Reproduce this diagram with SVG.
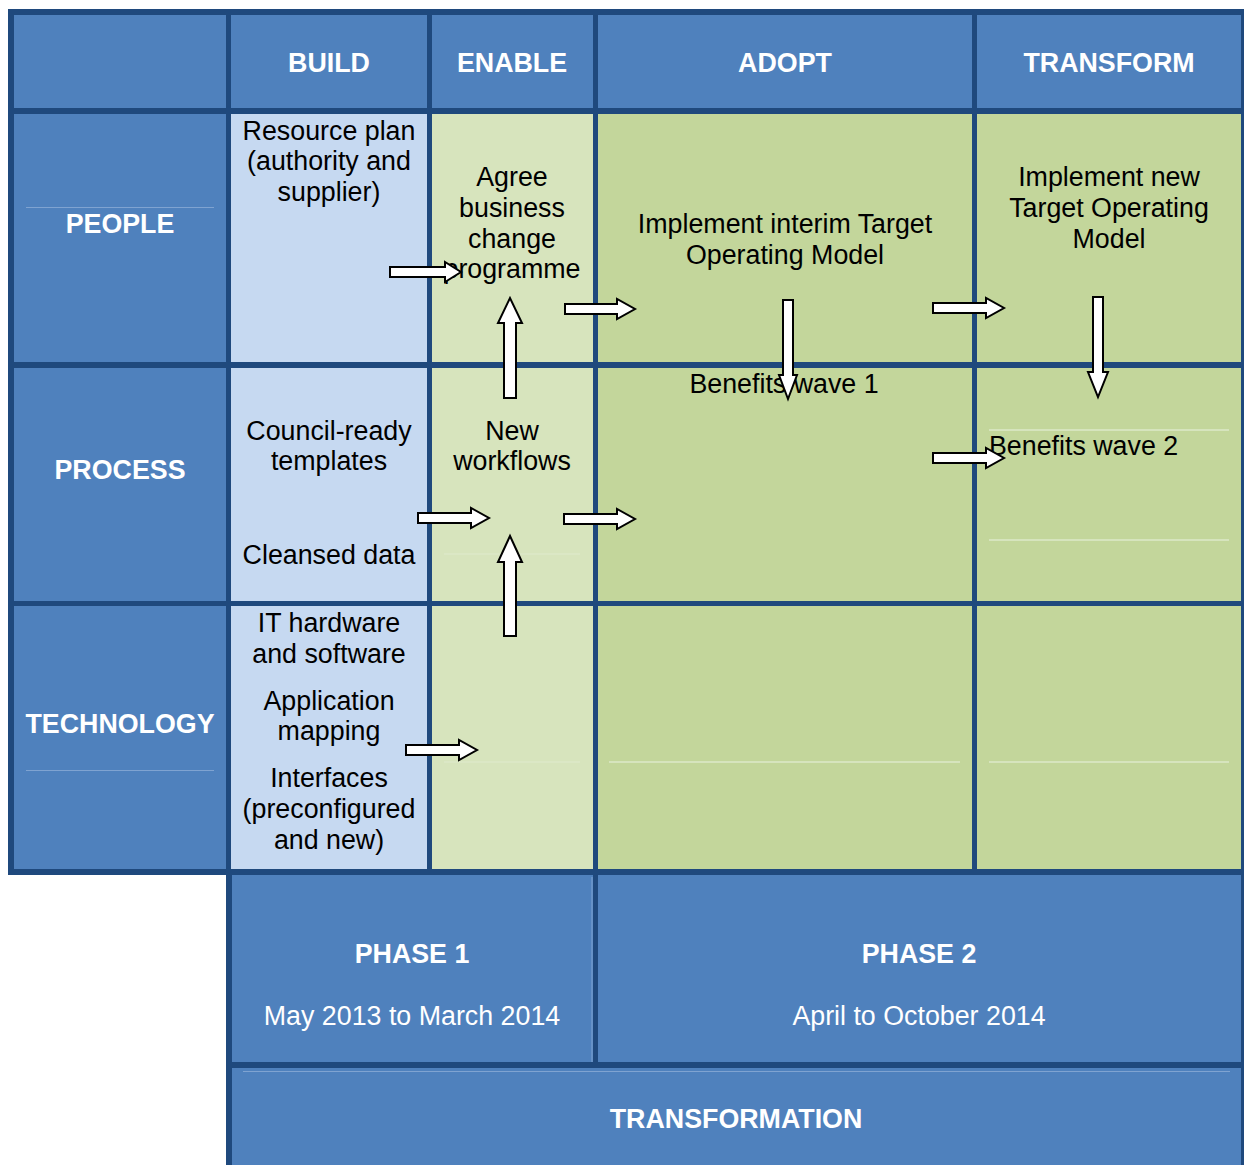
<svg xmlns="http://www.w3.org/2000/svg" width="1244" height="1165" viewBox="0 0 1244 1165">
<style>
.frame{fill:#1F497D}
.hdr{fill:#4F81BD}
.build{fill:#C6D9F1}
.enable{fill:#D7E4BD}
.adopt{fill:#C3D69B}
.ht{font-family:"Liberation Sans",Arial,sans-serif;font-size:26.8px;font-weight:bold;fill:#FFFFFF;text-anchor:middle}
.wt{font-family:"Liberation Sans",Arial,sans-serif;font-size:26.8px;fill:#FFFFFF;text-anchor:middle}
.bt{font-family:"Liberation Sans",Arial,sans-serif;font-size:26.8px;fill:#000000;text-anchor:middle}
.fl{stroke:#7FA3D1;stroke-width:1;fill:none}
.fg{stroke:#DDE8C8;stroke-width:1.5;fill:none}
.arr{fill:#FFFFFF;stroke:#000000;stroke-width:2;stroke-linejoin:miter}
</style>
<rect width="1244" height="1165" fill="#FFFFFF"/>
<g id="frame">
<rect class="frame" x="8" y="9" width="1236" height="866"/>
<rect class="frame" x="226" y="869" width="1018" height="296"/>
</g>
<g id="header-corner"><rect class="hdr" x="14" y="15" width="212" height="93"/></g>
<g id="header-build"><rect class="hdr" x="231" y="15" width="196" height="93"/><text class="ht" x="329" y="72">BUILD</text></g>
<g id="header-enable"><rect class="hdr" x="432" y="15" width="161" height="93"/><text class="ht" x="512" y="72">ENABLE</text></g>
<g id="header-adopt"><rect class="hdr" x="598" y="15" width="374" height="93"/><text class="ht" x="785" y="72">ADOPT</text></g>
<g id="header-transform"><rect class="hdr" x="977" y="15" width="264" height="93"/><text class="ht" x="1109" y="72">TRANSFORM</text></g>

<g id="label-people"><rect class="hdr" x="14" y="114" width="212" height="248"/><line class="fl" x1="26" y1="207.5" x2="214" y2="207.5"/><text class="ht" x="120" y="233">PEOPLE</text></g>
<g id="label-process"><rect class="hdr" x="14" y="368" width="212" height="233"/><text class="ht" x="120" y="479">PROCESS</text></g>
<g id="label-technology"><rect class="hdr" x="14" y="606" width="212" height="263"/><line class="fl" x1="26" y1="770.5" x2="214" y2="770.5"/><text class="ht" x="120" y="733">TECHNOLOGY</text></g>

<g id="build-people"><rect class="build" x="231" y="114" width="196" height="248"/>
<text class="bt" x="329" y="140">Resource plan</text>
<text class="bt" x="329" y="170">(authority and</text>
<text class="bt" x="329" y="201">supplier)</text></g>
<g id="build-process"><rect class="build" x="231" y="368" width="196" height="233"/>
<text class="bt" x="329" y="440">Council-ready</text>
<text class="bt" x="329" y="470">templates</text>
<text class="bt" x="329" y="564">Cleansed data</text></g>
<g id="build-technology"><rect class="build" x="231" y="606" width="196" height="263"/>
<text class="bt" x="329" y="632">IT hardware</text>
<text class="bt" x="329" y="663">and software</text>
<text class="bt" x="329" y="710">Application</text>
<text class="bt" x="329" y="740">mapping</text>
<text class="bt" x="329" y="787">Interfaces</text>
<text class="bt" x="329" y="818">(preconfigured</text>
<text class="bt" x="329" y="849">and new)</text></g>

<g id="enable-people"><rect class="enable" x="432" y="114" width="161" height="248"/>
<text class="bt" x="512" y="186">Agree</text>
<text class="bt" x="512" y="217">business</text>
<text class="bt" x="512" y="248">change</text>
<text class="bt" x="512" y="278">programme</text></g>
<g id="enable-process"><rect class="enable" x="432" y="368" width="161" height="233"/>
<line class="fg" x1="444" y1="554" x2="580" y2="554"/>
<text class="bt" x="512" y="440">New</text>
<text class="bt" x="512" y="470">workflows</text></g>
<g id="enable-technology"><rect class="enable" x="432" y="606" width="161" height="263"/>
<line class="fg" x1="444" y1="762" x2="580" y2="762"/></g>

<g id="adopt-people"><rect class="adopt" x="598" y="114" width="374" height="248"/>
<text class="bt" x="785" y="233">Implement interim Target</text>
<text class="bt" x="785" y="264">Operating Model</text></g>
<g id="adopt-process"><rect class="adopt" x="598" y="368" width="374" height="233"/>
<text class="bt" x="784" y="393">Benefits wave 1</text></g>
<g id="adopt-technology"><rect class="adopt" x="598" y="606" width="374" height="263"/>
<line class="fg" x1="609" y1="762" x2="960" y2="762"/></g>

<g id="transform-people"><rect class="adopt" x="977" y="114" width="264" height="248"/>
<text class="bt" x="1109" y="186">Implement new</text>
<text class="bt" x="1109" y="217">Target Operating</text>
<text class="bt" x="1109" y="248">Model</text></g>
<g id="transform-process"><rect class="adopt" x="977" y="368" width="264" height="233"/>
<line class="fg" x1="989" y1="430" x2="1229" y2="430"/>
<line class="fg" x1="989" y1="540" x2="1229" y2="540"/>
<text class="bt" x="989" y="455" style="text-anchor:start">Benefits wave 2</text></g>
<g id="transform-technology"><rect class="adopt" x="977" y="606" width="264" height="263"/>
<line class="fg" x1="989" y1="762" x2="1229" y2="762"/></g>

<g id="phase1"><rect class="hdr" x="232" y="875" width="361" height="187"/>
<line class="fl" x1="592" y1="877" x2="592" y2="1062"/>
<text class="ht" x="412" y="963">PHASE 1</text>
<text class="wt" x="412" y="1025">May 2013 to March 2014</text></g>
<g id="phase2"><rect class="hdr" x="598" y="875" width="643" height="187"/>
<text class="ht" x="919" y="963">PHASE 2</text>
<text class="wt" x="919" y="1025">April to October 2014</text></g>
<g id="transformation"><rect class="hdr" x="232" y="1068" width="1009" height="97"/>
<line class="fl" x1="243" y1="1071.5" x2="1230" y2="1071.5"/>
<text class="ht" x="736" y="1128">TRANSFORMATION</text></g>

<g id="connectors">
<path class="arr" d="M390,267 H445 V262 L461,272 L445,282 V277 H390 Z"/>
<path class="arr" d="M504,398 V323 H498 L510,298 L522,323 H516 V398 Z"/>
<path class="arr" d="M565,304 H617 V299 L635,309 L617,319 V314 H565 Z"/>
<path class="arr" d="M783,300 H793 V375 H797 L788,399 L779,375 H783 Z"/>
<path class="arr" d="M933,303 H986 V298 L1004,308 L986,318 V313 H933 Z"/>
<path class="arr" d="M1093,297 H1103 V372 H1108 L1098,397 L1088,372 H1093 Z"/>
<path class="arr" d="M933,453 H986 V448 L1004,458 L986,468 V463 H933 Z"/>
<path class="arr" d="M418,513 H471 V508 L489,518 L471,528 V523 H418 Z"/>
<path class="arr" d="M564,514 H617 V509 L635,519 L617,529 V524 H564 Z"/>
<path class="arr" d="M504,636 V562 H498 L510,536 L522,562 H516 V636 Z"/>
<path class="arr" d="M406,745 H459 V740 L477,750 L459,760 V755 H406 Z"/>
</g>
</svg>
